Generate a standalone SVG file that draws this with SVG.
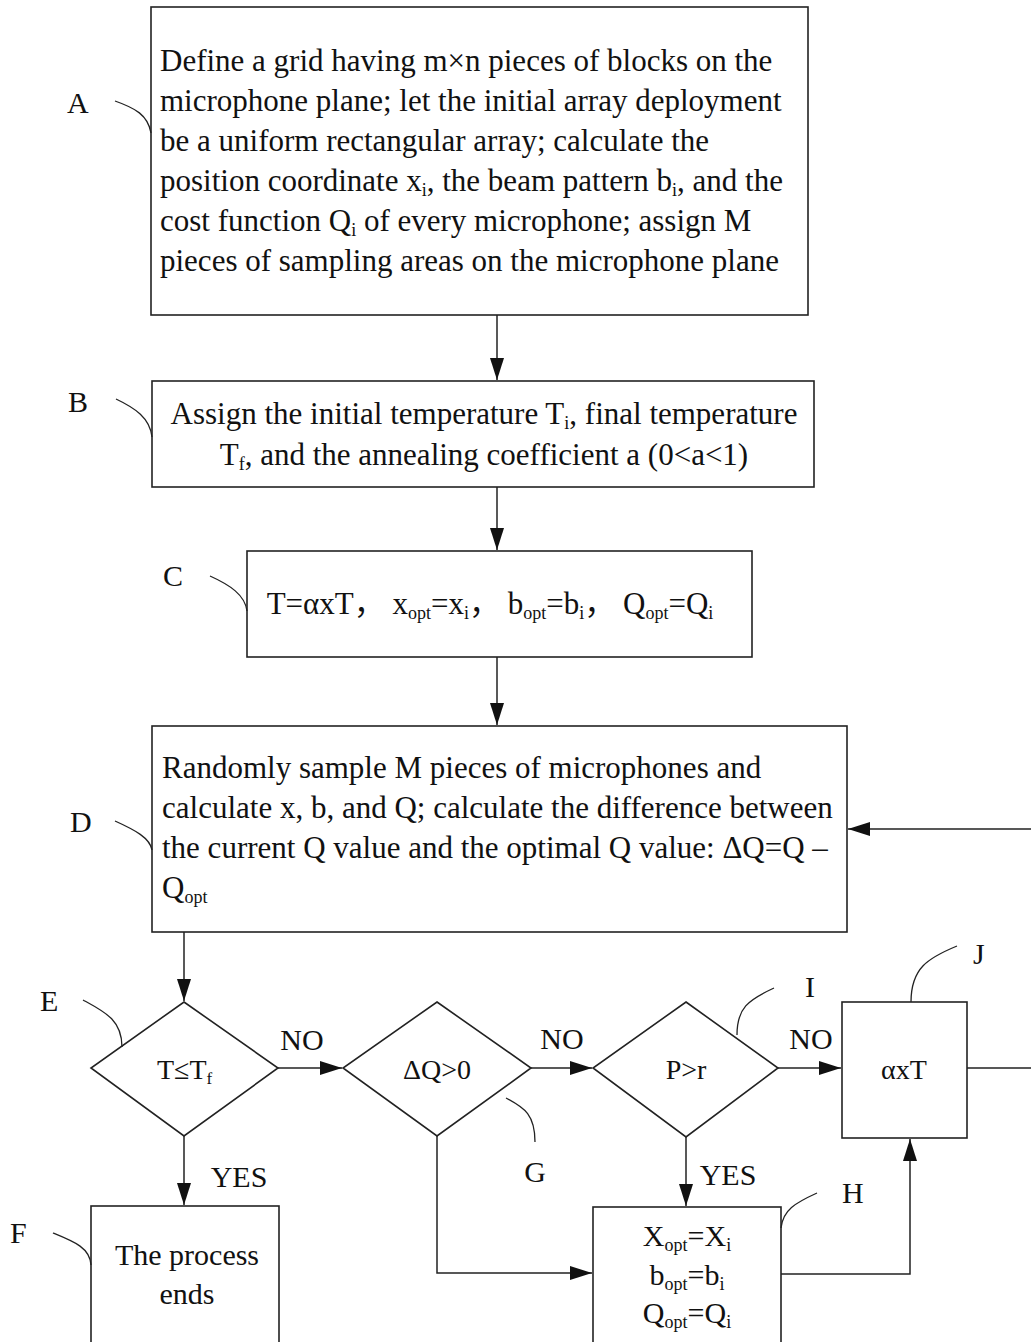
<svg xmlns="http://www.w3.org/2000/svg" width="1031" height="1342" viewBox="0 0 1031 1342">
<defs>
<style>
.box{fill:#fff;stroke:#222;stroke-width:1.6}
.ln{fill:none;stroke:#222;stroke-width:1.5}
.ld{fill:none;stroke:#222;stroke-width:1.3}
text{font-family:"Liberation Serif","Noto Sans CJK SC",serif;fill:#111}
.t{font-size:31px}
.s{font-size:28px}
.m{font-size:30px}
.lb{font-size:30px}
.c{text-anchor:middle}
</style>
<marker id="ah" markerUnits="userSpaceOnUse" markerWidth="24" markerHeight="14" refX="22" refY="7" orient="auto">
<path d="M0,0 L22,7 L0,14 z" fill="#111"/>
</marker>
</defs>
<rect width="1031" height="1342" fill="#fff"/>

<g id="connectors">
<line class="ln" x1="497" y1="315" x2="497" y2="380" marker-end="url(#ah)"/>
<line class="ln" x1="497" y1="487" x2="497" y2="550" marker-end="url(#ah)"/>
<line class="ln" x1="497" y1="657" x2="497" y2="725" marker-end="url(#ah)"/>
<line class="ln" x1="184" y1="932" x2="184" y2="1001" marker-end="url(#ah)"/>
<line class="ln" x1="278" y1="1068" x2="342" y2="1068" marker-end="url(#ah)"/>
<line class="ln" x1="184" y1="1136" x2="184" y2="1205" marker-end="url(#ah)"/>
<line class="ln" x1="531" y1="1068" x2="592" y2="1068" marker-end="url(#ah)"/>
<line class="ln" x1="778" y1="1068" x2="841" y2="1068" marker-end="url(#ah)"/>
<line class="ln" x1="686" y1="1137" x2="686" y2="1206" marker-end="url(#ah)"/>
<polyline class="ln" points="437,1136 437,1273 592,1273" marker-end="url(#ah)"/>
<polyline class="ln" points="781,1274 910,1274 910,1139" marker-end="url(#ah)"/>
<polyline class="ln" points="967,1068 1045,1068 1045,829 848,829" marker-end="url(#ah)"/>
</g>

<g id="A">
<rect class="box" x="151" y="7" width="657" height="308"/>
<text class="t" x="160" y="71">Define a grid having m×n pieces of blocks on the</text>
<text class="t" x="160" y="111">microphone plane; let the initial array deployment</text>
<text class="t" x="160" y="151">be a uniform rectangular array; calculate the</text>
<text class="t" x="160" y="191">position coordinate x<tspan font-size="18" dy="5">i</tspan><tspan dy="-5">, the beam pattern b</tspan><tspan font-size="18" dy="5">i</tspan><tspan dy="-5">, and the</tspan></text>
<text class="t" x="160" y="231">cost function Q<tspan font-size="18" dy="5">i</tspan><tspan dy="-5"> of every microphone; assign M</tspan></text>
<text class="t" x="160" y="271">pieces of sampling areas on the microphone plane</text>
<text class="lb" x="67" y="113">A</text>
<path class="ld" d="M115,101 C135,108 148,115 151,133"/>
</g>

<g id="B">
<rect class="box" x="152" y="381" width="662" height="106"/>
<text class="t c" x="484" y="424">Assign the initial temperature T<tspan font-size="18" dy="5">i</tspan><tspan dy="-5">, final temperature</tspan></text>
<text class="t c" x="484" y="465">T<tspan font-size="18" dy="5">f</tspan><tspan dy="-5">, and the annealing coefficient a (0&lt;a&lt;1)</tspan></text>
<text class="lb" x="68" y="412">B</text>
<path class="ld" d="M116,399 C135,408 150,418 152,437"/>
</g>

<g id="C">
<rect class="box" x="247" y="551" width="505" height="106"/>
<text class="t c" x="490" y="614" xml:space="preserve">T=αxT， x<tspan font-size="18" dy="5">opt</tspan><tspan dy="-5">=x</tspan><tspan font-size="18" dy="5">i</tspan><tspan dy="-5">， b</tspan><tspan font-size="18" dy="5">opt</tspan><tspan dy="-5">=b</tspan><tspan font-size="18" dy="5">i</tspan><tspan dy="-5">， Q</tspan><tspan font-size="18" dy="5">opt</tspan><tspan dy="-5">=Q</tspan><tspan font-size="18" dy="5">i</tspan></text>
<text class="lb" x="163" y="586">C</text>
<path class="ld" d="M210,576 C230,585 245,595 247,611"/>
</g>

<g id="D">
<rect class="box" x="152" y="726" width="695" height="206"/>
<text class="t" x="162" y="778">Randomly sample M pieces of microphones and</text>
<text class="t" x="162" y="818">calculate x, b, and Q; calculate the difference between</text>
<text class="t" x="162" y="858">the current Q value and the optimal Q value: ΔQ=Q –</text>
<text class="t" x="162" y="898">Q<tspan font-size="18" dy="5">opt</tspan></text>
<text class="lb" x="70" y="832">D</text>
<path class="ld" d="M115,821 C135,830 150,838 152,850"/>
</g>

<g id="E">
<polygon class="box" points="184,1002 278,1068 184,1136 91,1068"/>
<text class="s" x="157" y="1079">T≤T<tspan font-size="17" dy="5">f</tspan></text>
<text class="lb" x="40" y="1011">E</text>
<path class="ld" d="M83,1000 C105,1012 122,1020 122,1047"/>
<text class="m c" x="302" y="1050">NO</text>
<text class="m c" x="239" y="1187">YES</text>
</g>

<g id="F">
<rect class="box" x="91" y="1206" width="188" height="140"/>
<text class="m c" x="187" y="1265">The process</text>
<text class="m c" x="187" y="1304">ends</text>
<text class="lb" x="10" y="1243">F</text>
<path class="ld" d="M53,1233 C75,1242 90,1248 91,1265"/>
</g>

<g id="G">
<polygon class="box" points="437,1002 531,1068 437,1136 343,1068"/>
<text class="s c" x="437" y="1079">ΔQ&gt;0</text>
<text class="lb c" x="535" y="1182">G</text>
<path class="ld" d="M506,1098 C525,1108 535,1115 535,1142"/>
<text class="m c" x="562" y="1049">NO</text>
</g>

<g id="I">
<polygon class="box" points="686,1002 778,1068 686,1137 593,1068"/>
<text class="s c" x="686" y="1079">P&gt;r</text>
<text class="lb" x="805" y="997">I</text>
<path class="ld" d="M774,988 C748,1000 737,1008 737,1035"/>
<text class="m c" x="811" y="1049">NO</text>
<text class="m c" x="728" y="1185">YES</text>
</g>

<g id="J">
<rect class="box" x="842" y="1002" width="125" height="136"/>
<text class="s c" x="904" y="1079">αxT</text>
<text class="lb" x="973" y="964">J</text>
<path class="ld" d="M957,946 C928,958 911,968 911,1002"/>
</g>

<g id="H">
<rect class="box" x="593" y="1207" width="188" height="140"/>
<text class="m c" x="687" y="1246">X<tspan font-size="18" dy="5">opt</tspan><tspan dy="-5">=X</tspan><tspan font-size="18" dy="5">i</tspan></text>
<text class="m c" x="687" y="1285">b<tspan font-size="18" dy="5">opt</tspan><tspan dy="-5">=b</tspan><tspan font-size="18" dy="5">i</tspan></text>
<text class="m c" x="687" y="1323">Q<tspan font-size="18" dy="5">opt</tspan><tspan dy="-5">=Q</tspan><tspan font-size="18" dy="5">i</tspan></text>
<text class="lb" x="842" y="1203">H</text>
<path class="ld" d="M817,1193 C795,1203 783,1210 781,1228"/>
</g>
</svg>
